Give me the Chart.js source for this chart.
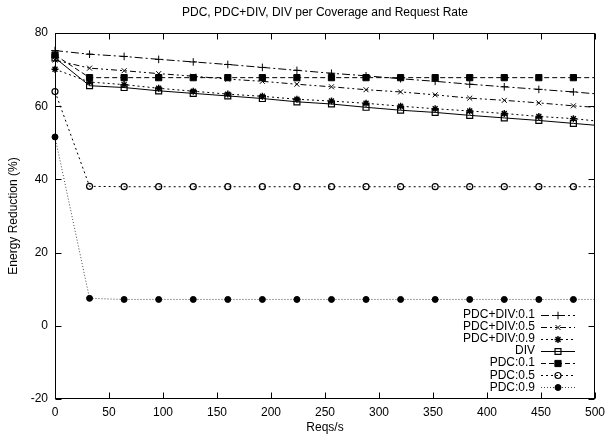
<!DOCTYPE html>
<html>
<head>
<meta charset="utf-8">
<script src="https://cdn.jsdelivr.net/npm/chart.js@4/dist/chart.umd.min.js"></script>
<style>
  html, body { margin: 0; padding: 0; background: #fff; }
  #wrap { width: 605px; height: 439px; }
</style>
</head>
<body>
<div id="wrap"><canvas id="c" width="605" height="439"></canvas></div>
<script>
const chartTitle = 'PDC, PDC+DIV, DIV per Coverage and Request Rate';
const xTitle = 'Reqs/s';
const yTitle = 'Energy Reduction (%)';
const reqs = [0, 32, 64, 96, 128, 160, 192, 224, 256, 288, 320, 352, 384, 416, 448, 480, 500];
const seriesNames = ['PDC+DIV:0.1', 'PDC+DIV:0.5', 'PDC+DIV:0.9', 'DIV', 'PDC:0.1', 'PDC:0.5', 'PDC:0.9'];
const pdcDiv01 = [75.2, 74.2, 73.6, 72.8, 72.1, 71.4, 70.6, 69.8, 69.0, 68.3, 67.5, 66.8, 66.0, 65.3, 64.6, 63.9, 63.4];
const pdcDiv05 = [72.6, 70.4, 69.7, 68.9, 68.2, 67.4, 66.8, 66.0, 65.3, 64.5, 63.9, 63.1, 62.2, 61.6, 60.9, 60.1, 59.7];
const pdcDiv09 = [70.1, 66.6, 65.9, 64.9, 64.1, 63.3, 62.7, 61.9, 61.4, 60.8, 60.0, 59.3, 58.7, 58.0, 57.2, 56.6, 56.0];
const div = [73.2, 65.6, 65.1, 64.2, 63.5, 62.8, 62.1, 61.2, 60.6, 59.7, 58.9, 58.3, 57.5, 56.8, 56.1, 55.3, 54.8];
const pdc01 = [74.0, 67.8, 67.8, 67.8, 67.8, 67.8, 67.8, 67.8, 67.8, 67.8, 67.8, 67.8, 67.8, 67.8, 67.8, 67.8, 67.8];
const pdc05 = [64.0, 38.1, 38.0, 38.0, 38.0, 38.0, 38.0, 38.0, 38.0, 38.0, 38.0, 38.0, 38.0, 38.0, 38.0, 38.0, 38.0];
const pdc09 = [51.6, 7.5, 7.2, 7.2, 7.2, 7.2, 7.2, 7.2, 7.2, 7.2, 7.2, 7.2, 7.2, 7.2, 7.2, 7.2, 7.2];
const xTicksStep = 50, yTicksStep = 20;

const FONT = '"Liberation Sans", Arial, Helvetica, sans-serif';
Chart.defaults.font.family = FONT;
Chart.defaults.font.size = 12;
Chart.defaults.color = '#000';

const values = [pdcDiv01, pdcDiv05, pdcDiv09, div, pdc01, pdc05, pdc09];
const styles = [
  { dash: [8, 3, 2, 3], pointStyle: 'cross', radius: 3.8, bg: 'rgba(0,0,0,0)', bw: 1, color: '#000' },
  { dash: [6, 3, 2, 3, 2, 3], pointStyle: 'crossRot', radius: 3.5, bg: 'rgba(0,0,0,0)', bw: 1, color: '#000' },
  { dash: [2, 3], pointStyle: 'star', radius: 3.5, bg: 'rgba(0,0,0,0)', bw: 1.4, color: '#000' },
  { dash: [], pointStyle: 'rect', radius: 4.2, bg: 'rgba(0,0,0,0)', bw: 1.2, color: '#000' },
  { dash: [5, 3], pointStyle: 'rect', radius: 4.4, bg: '#000', bw: 1, color: '#000' },
  { dash: [2, 3], pointStyle: 'circle', radius: 3, bg: 'rgba(0,0,0,0)', bw: 1.2, color: '#000' },
  { dash: [1, 2], pointStyle: 'circle', radius: 3, bg: '#000', bw: 1, color: '#444' }
];

const datasets = seriesNames.map((name, i) => ({
  label: name,
  data: reqs.map((x, j) => ({ x: x, y: values[i][j] })),
  borderColor: styles[i].color,
  borderWidth: 1,
  borderDash: styles[i].dash,
  pointStyle: styles[i].pointStyle,
  pointRadius: ctx => (ctx.raw && ctx.raw.x > 480 ? 0 : styles[i].radius),
  pointBackgroundColor: styles[i].bg,
  pointBorderColor: '#000',
  pointBorderWidth: styles[i].bw,
  tension: 0,
  fill: false,
  clip: false
}));

const framePlugin = {
  id: 'frame',
  afterDatasetsDraw(chart) {
    const { ctx, chartArea, scales } = chart;
    const { left, top, right, bottom } = chartArea;
    const xs = scales.x, ys = scales.y;
    ctx.save();
    ctx.strokeStyle = '#000';
    ctx.lineWidth = 1;
    ctx.setLineDash([]);
    const L = Math.round(left) + 0.5, R = Math.round(right) - 0.5;
    const T = Math.round(top) + 0.5, B = Math.round(bottom) - 0.5;
    ctx.strokeRect(L, T, R - L, B - T);
    const tl = 6;
    ctx.beginPath();
    xs.ticks.forEach(t => {
      const px = Math.round(xs.getPixelForValue(t.value)) + 0.5;
      ctx.moveTo(px, B); ctx.lineTo(px, B - tl);
      ctx.moveTo(px, T); ctx.lineTo(px, T + tl);
    });
    ys.ticks.forEach(t => {
      const py = Math.round(ys.getPixelForValue(t.value)) + 0.5;
      ctx.moveTo(L, py); ctx.lineTo(L + tl, py);
      ctx.moveTo(R, py); ctx.lineTo(R - tl, py);
    });
    ctx.stroke();

    // title
    ctx.fillStyle = '#000';
    ctx.font = '12px ' + FONT;
    ctx.textAlign = 'center';
    ctx.textBaseline = 'middle';
    ctx.fillText(chartTitle, (left + right) / 2, 13);

    // legend (gnuplot style, inside bottom-right)
    const rowY0 = 314.7, rowH = 12.1;
    const textRight = 535, lineX0 = 541, lineX1 = 575;
    chart.data.datasets.forEach((ds, i) => {
      const y = rowY0 + i * rowH;
      ctx.fillStyle = '#000';
      ctx.textAlign = 'right';
      ctx.textBaseline = 'middle';
      ctx.fillText(ds.label, textRight, y);
      ctx.beginPath();
      ctx.strokeStyle = styles[i].color;
      ctx.lineWidth = 1;
      ctx.setLineDash(styles[i].dash);
      ctx.moveTo(lineX0, Math.round(y) + 0.5);
      ctx.lineTo(lineX1, Math.round(y) + 0.5);
      ctx.stroke();
      ctx.setLineDash([]);
      ctx.strokeStyle = '#000';
      ctx.fillStyle = styles[i].bg;
      ctx.lineWidth = styles[i].bw;
      Chart.helpers.drawPoint(ctx, {
        pointStyle: styles[i].pointStyle,
        radius: styles[i].radius,
        rotation: 0,
        borderWidth: styles[i].bw
      }, (lineX0 + lineX1) / 2, Math.round(y) + 0.5);
    });
    ctx.restore();
  }
};

new Chart(document.getElementById('c'), {
  type: 'line',
  data: { datasets: datasets },
  plugins: [framePlugin],
  options: {
    responsive: false,
    animation: false,
    devicePixelRatio: 1,
    layout: { padding: { top: 33, right: 10, left: 0, bottom: 0 } },
    plugins: {
      legend: { display: false },
      title: { display: false },
      tooltip: { enabled: false }
    },
    scales: {
      x: {
        type: 'linear',
        min: 0, max: 500,
        ticks: { stepSize: xTicksStep, padding: 6, maxRotation: 0, color: '#000' },
        grid: { display: false, drawTicks: false },
        border: { display: false },
        title: { display: true, text: xTitle, color: '#000', padding: { top: 0, bottom: 4 } },
        afterFit: s => { s.height = 40; s.paddingRight = 0; }
      },
      y: {
        type: 'linear',
        min: -20, max: 80,
        ticks: { stepSize: yTicksStep, padding: 7, color: '#000' },
        grid: { display: false, drawTicks: false },
        border: { display: false },
        title: { display: true, text: yTitle, color: '#000', padding: { top: 6, bottom: 0 } },
        afterFit: s => { s.width = 55; }
      }
    }
  }
});
</script>
</body>
</html>
